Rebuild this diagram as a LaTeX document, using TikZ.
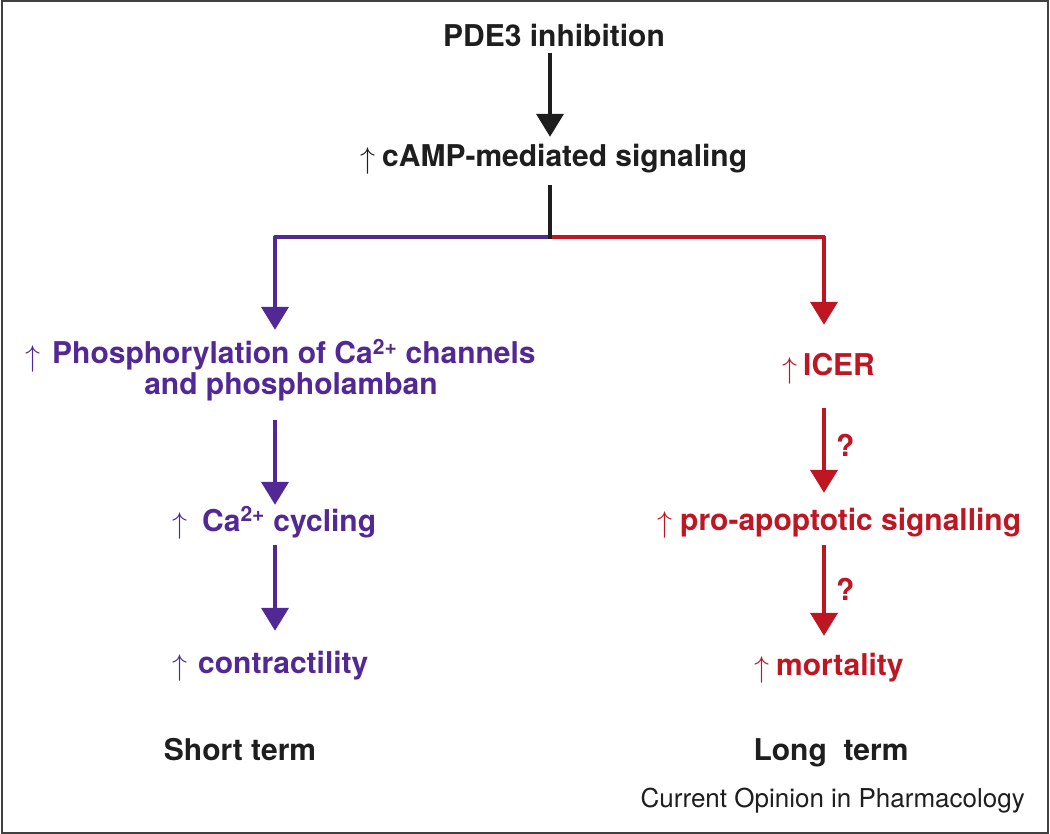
\documentclass[tikz,border=0pt]{standalone}
\usepackage{fontspec}
\setmainfont{TeX Gyre Heros}
\usetikzlibrary{arrows.meta}
\definecolor{pur}{RGB}{82,40,148}
\definecolor{rd}{RGB}{190,22,34}
\definecolor{ink}{RGB}{30,30,30}
\newcommand{\upar}[1]{\llap{\raisebox{-2pt}{\scalebox{3}{\fontsize{10}{12}\selectfont$\uparrow$}}\kern#1pt}}
\begin{document}
\begin{tikzpicture}[x=1pt,y=-1pt,
  lbl/.style={inner sep=0pt, anchor=base west, font=\fontsize{30}{36}\selectfont\bfseries, text height=22pt, text depth=6pt},
  conn/.style={line width=4pt, -{Triangle[length=23pt,width=27pt]}},
  q/.style={right=10pt, inner sep=0pt, font=\fontsize{30}{36}\selectfont\bfseries, rd}]
\useasboundingbox (0,0) rectangle (1050,834);
\draw[line width=2pt, ink!85] (1.5,1.5) rectangle (1047.5,832.5);
% coordinates of the columns
\coordinate (cx) at (550,0);
\coordinate (pc) at (275,0);
\coordinate (rc) at (824,0);
\coordinate (jn) at (550,237);
% texts
\node[lbl, ink, anchor=base] (pde) at (554,47) {PDE3 inhibition};
\node[lbl, ink] (camp) at (382,167) {\upar{7}cAMP-mediated signaling};
\node[lbl, pur] (phos1) at (52,364) {\upar{12}Phosphorylation of Ca\textsuperscript{2+} channels};
\node[lbl, pur, anchor=base] (phos2) at (291,395) {and phospholamban};
\node[lbl, pur] (ca) at (202,531) {\upar{15}Ca\textsuperscript{2+} cycling};
\node[lbl, pur] (con) at (198,673) {\upar{11}contractility};
\node[lbl, rd] (icer) at (803,376) {\upar{6}ICER};
\node[lbl, rd] (apo) at (680,530) {\upar{8}pro-apoptotic signalling};
\node[lbl, rd] (mort) at (776,675) {\upar{7}mortality};
\node[lbl, ink, anchor=base] (st) at (240,760) {Short term};
\node[lbl, ink, anchor=base] (lt) at (831,760) {Long\ \ term};
\node[inner sep=0pt, anchor=base east, font=\fontsize{26}{30}\selectfont, ink] (cop) at (1025,807) {Current Opinion in Pharmacology};
% connectors
\draw[conn, ink, shorten >=8pt] (pde.south -| cx) -- (camp.north -| cx);
\draw[conn, pur, line join=round, shorten >=12pt] (jn) -| (phos1.north -| pc);
\draw[conn, rd, line join=round, shorten >=29pt] (jn) -| (icer.north -| rc);
\draw[line width=4pt, ink, shorten <=12pt] (camp.south -| cx) -- ([yshift=-2pt]jn);
\draw[conn, pur, shorten <=19pt, shorten >=4pt] (phos2.south -| pc) -- (ca.north -| pc);
\draw[conn, pur, shorten <=8pt, shorten >=20pt] (ca.south -| pc) -- (con.north -| pc);
\draw[conn, rd, shorten <=26pt, shorten >=15pt] (icer.south -| rc) -- node[q]{?} (apo.north -| rc);
\draw[conn, rd, shorten <=9pt, shorten >=17pt] (apo.south -| rc) -- node[q, pos=0.46]{?} (mort.north -| rc);
\end{tikzpicture}
\end{document}
